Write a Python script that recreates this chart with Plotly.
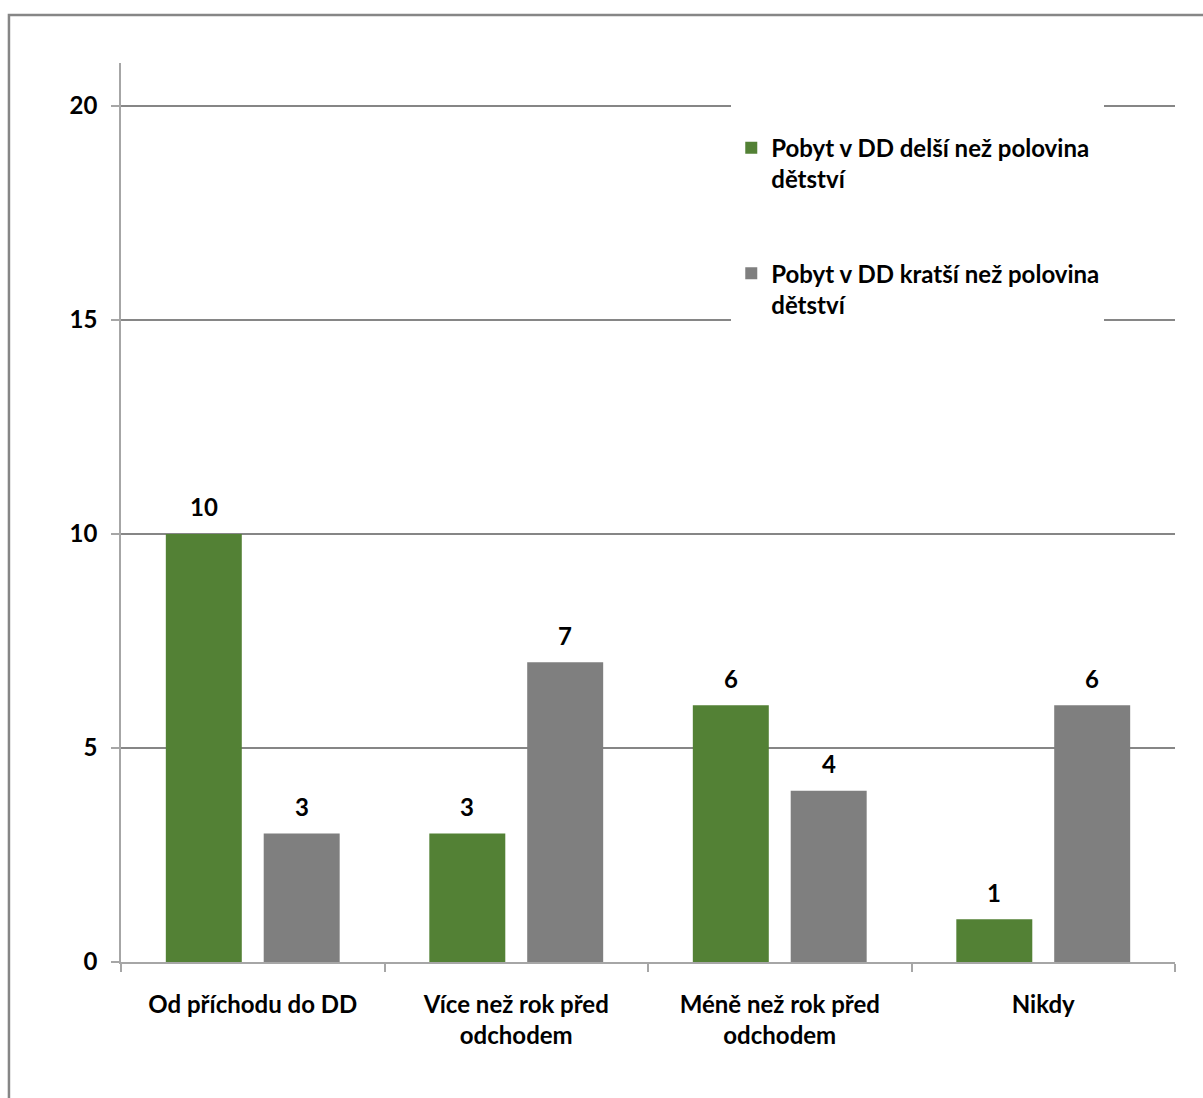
import plotly.graph_objects as go

categories = ["Od příchodu do DD", "Více než rok před<br>odchodem", "Méně než rok před<br>odchodem", "Nikdy"]
series_names = ["Pobyt v DD delší než polovina<br>dětství", "Pobyt v DD kratší než polovina<br>dětství"]
longer_values = [10, 3, 6, 1]
shorter_values = [3, 7, 4, 6]
colors = ["#538135", "#7f7f7f"]
y_ticks = [0, 5, 10, 15, 20]

FONT = "Lato, 'Open Sans', sans-serif"
W, H = 1203, 1098
ML, MR, MT, MB = 121, 28, 63, 136
BARGAP, BARGROUPGAP = 0.257, 0.224

fig = go.Figure()
all_vals = [longer_values, shorter_values]
for i, (name, vals) in enumerate(zip(series_names, all_vals)):
    fig.add_trace(go.Bar(
        x=categories, y=vals, name=name, legendgroup=f"g{i}",
        marker=dict(color=colors[i], line=dict(width=0)),
    ))

# data labels placed over bars through the category axis
cat_px = (W - ML - MR) / len(categories)
slot = cat_px * (1 - BARGAP) / 2
for i, vals in enumerate(all_vals):
    for c, v in zip(categories, vals):
        fig.add_annotation(
            x=c, y=v, xref="x", yref="y", text=f"<b>{v}</b>", showarrow=False,
            xshift=(i - 0.5) * slot, yshift=27, yanchor="middle",
            font=dict(family=FONT, size=24, color="black"),
        )

fig.update_layout(
    width=W, height=H,
    paper_bgcolor="white", plot_bgcolor="white",
    margin=dict(l=ML, r=MR, t=MT, b=MB),
    barmode="group", bargap=BARGAP, bargroupgap=BARGROUPGAP,
    font=dict(family=FONT, size=24, color="black", weight="bold"),
    showlegend=True,
    legend=dict(
        x=0.579, y=0.965, xanchor="left", yanchor="top",
        bgcolor="white", borderwidth=0, entrywidth=345,
        title=dict(text=" ", font=dict(family=FONT, size=24)),
        font=dict(family=FONT, size=24, color="black", weight="bold"),
        tracegroupgap=60, valign="top", traceorder="grouped",
    ),
    xaxis=dict(
        showgrid=False, showline=True, linecolor="#a6a6a6", linewidth=1.5,
        ticks="outside", tickson="boundaries", ticklen=8, tickcolor="#a6a6a6", tickwidth=1.5,
        ticklabelstandoff=20,
        tickfont=dict(family=FONT, size=24, color="black", weight="bold"),
    ),
    yaxis=dict(
        range=[0, 21], tickvals=y_ticks, showgrid=True, gridcolor="#868686", gridwidth=2,
        showline=True, linecolor="#a6a6a6", linewidth=1.5,
        ticks="outside", ticklen=8, tickcolor="#a6a6a6", tickwidth=1.5,
        ticklabelstandoff=9, zeroline=False,
        tickfont=dict(family=FONT, size=24, color="black", weight="bold"),
    ),
)

# outer chart frame
fig.add_shape(type="rect", xref="paper", yref="paper",
              x0=-0.1063, x1=1.2, y0=-0.3, y1=1.0534,
              line=dict(color="#868686", width=2.5), fillcolor="rgba(0,0,0,0)", layer="above")

fig.write_html("out.html", post_script="document.body.style.margin='0';",
               config={"displayModeBar": False})
